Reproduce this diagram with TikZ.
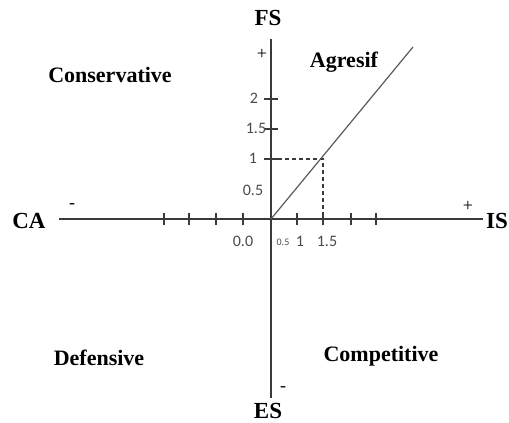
\documentclass[tikz,border=0pt]{standalone}
\usepackage{fontspec}
\setmainfont{Liberation Serif}
\newfontfamily\tickfont{Carlito}
\usetikzlibrary{calc}
\definecolor{cEje}{HTML}{3A3A3A}
\definecolor{cRecta}{HTML}{5A5A5A}
\definecolor{cNum}{HTML}{4A4A4A}
\tikzset{
    x=1pt, y=1pt,
    eje/.style={draw=cEje, line width=1.2pt},
    tic/.style={draw=cEje, line width=1.1pt},
    guia/.style={draw=cEje, line width=1.1pt, dash pattern=on 4pt off 3pt},
    recta/.style={draw=cRecta, line width=1.2pt},
    axlbl/.style={font=\bfseries\fontsize{23}{25}\selectfont, inner sep=0pt},
    cuad/.style={font=\bfseries\fontsize{22}{24}\selectfont, inner sep=0pt},
    signo/.style={font=\fontsize{18}{19}\selectfont, inner sep=0pt},
    num/.style={font=\tickfont\fontsize{16}{17}\selectfont, text=cNum, inner sep=0pt},
}

\begin{document}
\begin{tikzpicture}
    \useasboundingbox (0,0) rectangle (509,423);

    \coordinate (O) at (271,204);
    \coordinate (izq) at (59,204);
    \coordinate (der) at (483,204);
    \coordinate (arr) at (271,384);
    \coordinate (aba) at (271,25);
    \coordinate (punto) at (323,264);
    \coordinate (fin) at (413,376);

    % ejes
    \draw[eje] (izq) -- (der);
    \draw[eje] (aba) -- (arr);

    \foreach \xx in {164,189,216,243,297,323,351,376}
        \draw[tic] (\xx,198) -- (\xx,210);
    \foreach \yy in {264,294,324}
        \draw[tic] (264,\yy) -- (278,\yy);

    % punto (1.5, 1) sobre la recta
    \draw[guia] (O |- punto) -- (punto) -- (punto |- O);
    \draw[recta] (O) -- (fin);

    \node[axlbl] (fs) at (268,405) {FS};
    \node[axlbl] (es) at (268,12) {ES};
    \node[axlbl] (ca) at (29,202) {CA};
    \node[axlbl] (is) at (497,202) {IS};

    \node[signo] (masY) at (262,369) {+};
    \node[signo] (menY) at (283,34) {-};
    \node[signo] (menX) at (72,217) {-};
    \node[signo] (masX) at (468,217) {+};

    \node[cuad] (cons) at (110,348) {Conservative};
    \node[cuad] (agr) at (344,361) {Agresif};
    \node[cuad] (def) at (99,65) {Defensive};
    \node[cuad] (comp) at (381,67) {Competitive};

    \node[num] (x00) at (243,182) {0.0};
    \node[num, font=\tickfont\fontsize{10}{11}\selectfont] (x05) at (283,181) {0.5};
    \node[num] (x10) at (300,182) {1};
    \node[num] (x15) at (327,182) {1.5};

    \node[num] (y20) at (254,325) {2};
    \node[num] (y15) at (256,295) {1.5};
    \node[num] (y10) at (253,265) {1};
    \node[num] (y05) at (253,233) {0.5};
\end{tikzpicture}
\end{document}
